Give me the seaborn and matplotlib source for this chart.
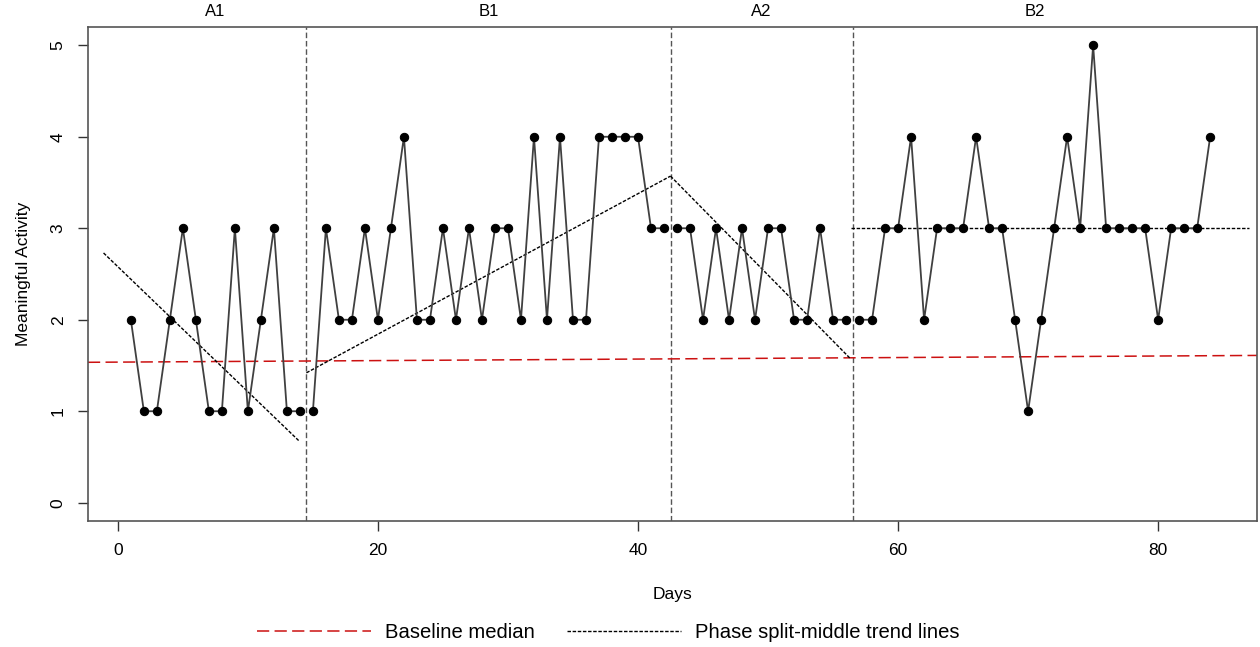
import matplotlib
matplotlib.use("Agg")
import matplotlib.pyplot as plt
import matplotlib.transforms as mtransforms
import seaborn as sns
import pandas as pd

sns.set_style("ticks")
plt.rcParams['font.family'] = ['Liberation Sans', 'DejaVu Sans']
plt.rcParams['text.color'] = 'black'
plt.rcParams['axes.labelcolor'] = 'black'
plt.rcParams['xtick.color'] = 'black'
plt.rcParams['ytick.color'] = 'black'

# observations, one per day, grouped by phase
phase_names = ["A1", "B1", "A2", "B2"]
a1_days = list(range(1, 15))
a1_vals = [2, 1, 1, 2, 3, 2, 1, 1, 3, 1, 2, 3, 1, 1]
b1_days = list(range(15, 43))
b1_vals = [1, 3, 2, 2, 3, 2, 3, 4, 2, 2, 3, 2, 3, 2, 3, 3, 2, 4, 2, 4,
           2, 2, 4, 4, 4, 4, 3, 3]
a2_days = list(range(43, 57))
a2_vals = [3, 3, 2, 3, 2, 3, 2, 3, 3, 2, 2, 3, 2, 2]
b2_days = list(range(57, 85))
b2_vals = [2, 2, 3, 3, 4, 2, 3, 3, 3, 4, 3, 3, 2, 1, 2, 3, 4, 3, 5, 3,
           3, 3, 3, 2, 3, 3, 3, 4]

# phase change lines and label positions
phase_changes = [14.5, 42.5, 56.5]
label_pos = [7.5, 28.5, 49.5, 70.5]

# baseline median line
baseline_x = [-2.3, 87.6]
baseline_y = [1.535, 1.61]

# split-middle trend lines per phase: (x0, x1), (y0, y1)
trend_x = [[-1.1, 13.9], [14.5, 42.5], [42.5, 56.3], [56.4, 87.0]]
trend_y = [[2.73, 0.68], [1.42, 3.57], [3.57, 1.58], [3.0, 3.0]]

df = pd.concat([
    pd.DataFrame({"day": a1_days, "value": a1_vals, "phase": "A1"}),
    pd.DataFrame({"day": b1_days, "value": b1_vals, "phase": "B1"}),
    pd.DataFrame({"day": a2_days, "value": a2_vals, "phase": "A2"}),
    pd.DataFrame({"day": b2_days, "value": b2_vals, "phase": "B2"}),
])

fig = plt.figure(figsize=(12.6, 6.47), dpi=100)
ax = fig.add_axes([0.0698, 0.1947, 0.9278, 0.7636])

sns.lineplot(ax=ax, data=df, x="day", y="value", units="phase", estimator=None,
             color="#404040", lw=1.3, marker="o", markersize=6,
             markerfacecolor="black", markeredgecolor="black", zorder=3)

for xc in phase_changes:
    ax.axvline(xc, color="#555555", lw=1.0, dashes=(4, 2), zorder=2)

base, = ax.plot(baseline_x, baseline_y, color="#cc1111", lw=1.1,
                dashes=(8, 3.5), zorder=2)
trend_handles = []
for tx, ty in zip(trend_x, trend_y):
    tl, = ax.plot(tx, ty, color="black", lw=1.0, dashes=(2.5, 1.2), zorder=2)
    trend_handles.append(tl)

trans = mtransforms.blended_transform_factory(ax.transData, ax.transAxes)
for name, xp in zip(phase_names, label_pos):
    ax.text(xp, 1.016, name, transform=trans, ha="center", va="bottom",
            fontsize=12)

ax.set_xlim(-2.3, 87.6)
ax.set_ylim(-0.2, 5.2)
ax.set_xticks([0, 20, 40, 60, 80])
ax.set_yticks([0, 1, 2, 3, 4, 5])
ax.tick_params(axis="both", length=7, width=1, color="#333333", labelsize=12.5)
ax.tick_params(axis="x", pad=9)
ax.tick_params(axis="y", pad=9)
for lab in ax.get_yticklabels():
    lab.set_rotation(90)
    lab.set_va("center")
for sp in ax.spines.values():
    sp.set_color("#555555")
    sp.set_linewidth(1.2)

ax.set_xlabel("Days", fontsize=12.5, labelpad=21)
ax.set_ylabel("Meaningful Activity", fontsize=12.5, labelpad=14)

fig.legend(handles=[base, trend_handles[0]],
           labels=["Baseline median", "Phase split-middle trend lines"],
           loc="lower center", bbox_to_anchor=(0.483, -0.005), borderaxespad=0.0,
           ncol=2, frameon=False, fontsize=14.6, handlelength=5.6,
           columnspacing=1.6, handletextpad=0.7)

fig.savefig("out.png", dpi=100)
